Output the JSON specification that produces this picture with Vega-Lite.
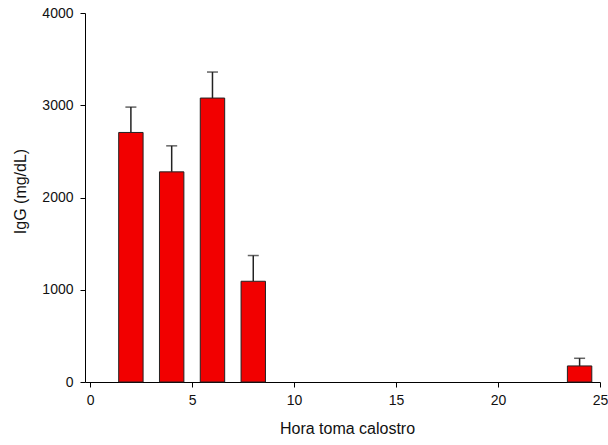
{
  "$schema": "https://vega.github.io/schema/vega-lite/v6.json",
  "width": 515,
  "height": 369,
  "autosize": {"type": "none"},
  "padding": {"left": 85, "top": 13, "right": 8, "bottom": 63},
  "background": "white",
  "config": {
    "view": {"stroke": null},
    "font": "Liberation Sans",
    "axis": {"grid": false, "domainColor": "#000", "tickColor": "#000", "labelColor": "#111", "titleColor": "#111", "labelFont": "Liberation Sans", "titleFont": "Liberation Sans", "titleFontWeight": "normal", "domainWidth": 1, "tickWidth": 1, "labelFlush": false, "labelBound": false}
  },
  "data": {"values": [
    {"hora": 2, "igg": 2705, "err": 2980},
    {"hora": 4, "igg": 2278, "err": 2560},
    {"hora": 6, "igg": 3078, "err": 3360},
    {"hora": 8, "igg": 1092, "err": 1371},
    {"hora": 24, "igg": 174, "err": 257}
  ]},
  "encoding": {
    "x": {"field": "hora", "type": "quantitative", "scale": {"domain": [-0.25, 25], "nice": false, "zero": false, "padding": 0},
      "axis": {"title": "Hora toma calostro", "values": [0, 5, 10, 15, 20, 25], "format": "d", "tickSize": 5, "labelFontSize": 14, "labelPadding": 6, "titleFontSize": 16, "titlePadding": 13, "titleX": 262, "labelFlush": false}}
  },
  "layer": [
    {
      "mark": {"type": "rule", "color": "#222", "strokeWidth": 1.5},
      "encoding": {
        "y": {"field": "igg", "type": "quantitative"},
        "y2": {"field": "err"}
      }
    },
    {
      "mark": {"type": "tick", "orient": "horizontal", "size": 11, "thickness": 1.5, "color": "#222"},
      "encoding": {
        "y": {"field": "err", "type": "quantitative"}
      }
    },
    {
      "mark": {"type": "bar", "width": 24.4, "color": "#f20000", "stroke": "#222", "strokeWidth": 1},
      "encoding": {
        "y": {"field": "igg", "type": "quantitative", "scale": {"domain": [0, 4000], "nice": false, "padding": 0},
          "axis": {"title": "IgG (mg/dL)", "values": [0, 1000, 2000, 3000, 4000], "format": "d", "tickSize": 5, "labelFontSize": 14, "labelPadding": 7, "titleFontSize": 16, "titlePadding": 13, "titleY": 178, "labelFlush": false}}
      }
    }
  ]
}
